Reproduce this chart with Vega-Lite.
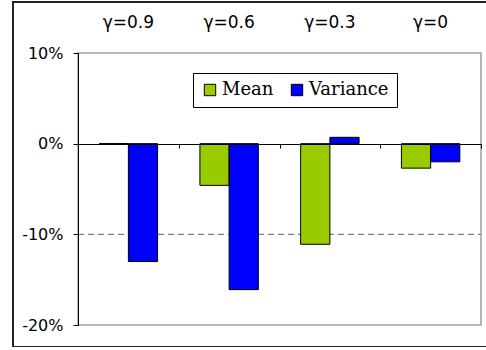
{
  "$schema": "https://vega.github.io/schema/vega-lite/v6.json",
  "width": 474,
  "height": 345,
  "autosize": {"type": "none"},
  "padding": {"left": 13, "top": 2, "right": 0, "bottom": 0},
  "background": "white",
  "config": {
    "view": {"stroke": "#222222", "strokeWidth": 2},
    "font": "DejaVu Sans"
  },
  "data": {
    "values": [
      {"gamma": "γ=0.9", "series": "Mean", "value": 0},
      {"gamma": "γ=0.9", "series": "Variance", "value": -0.13},
      {"gamma": "γ=0.6", "series": "Mean", "value": -0.046},
      {"gamma": "γ=0.6", "series": "Variance", "value": -0.161},
      {"gamma": "γ=0.3", "series": "Mean", "value": -0.111},
      {"gamma": "γ=0.3", "series": "Variance", "value": 0.007},
      {"gamma": "γ=0", "series": "Mean", "value": -0.027},
      {"gamma": "γ=0", "series": "Variance", "value": -0.02}
    ]
  },
  "layer": [
    {
      "data": {"values": [{}]},
      "layer": [
        {
          "mark": {"type": "rect", "fill": "transparent", "stroke": "#a0a0a0", "strokeWidth": 1.5},
          "encoding": {
            "x": {
              "datum": 0,
              "type": "quantitative",
              "scale": {"domain": [0, 4], "range": [65, 468], "nice": false, "zero": false},
              "axis": {
                "orient": "bottom",
                "offset": -203,
                "values": [0, 1, 2, 3, 4],
                "labels": false,
                "grid": false,
                "domainColor": "black",
                "domainWidth": 1,
                "tickColor": "black",
                "tickSize": 4,
                "title": null,
                "zindex": 1
              }
            },
            "x2": {"datum": 4},
            "y": {
              "datum": 0.1,
              "type": "quantitative",
              "scale": {"domain": [-0.2, 0.1], "range": [323, 51], "nice": false, "zero": false},
              "axis": {
                "orient": "left",
                "offset": -65,
                "values": [-0.2, -0.1, 0, 0.1],
                "format": ".0%",
                "labelExpr": "replace(datum.label, '\u2212', '-')",
                "grid": false,
                "domainColor": "black",
                "tickColor": "black",
                "tickSize": 5,
                "labelPadding": 10,
                "labelFont": "DejaVu Sans",
                "labelFontSize": 16,
                "labelColor": "black",
                "title": null,
                "zindex": 1
              }
            },
            "y2": {"datum": -0.2}
          }
        },
        {
          "mark": {"type": "rule", "stroke": "#808080", "strokeWidth": 1.3, "strokeDash": [6, 4]},
          "encoding": {
            "x": {"datum": 0, "type": "quantitative"},
            "x2": {"datum": 4},
            "y": {"datum": -0.1, "type": "quantitative"}
          }
        }
      ]
    },
    {
      "mark": {"type": "bar", "stroke": "black", "strokeWidth": 1},
      "encoding": {
        "x": {
          "field": "gamma",
          "type": "nominal",
          "sort": ["γ=0.9", "γ=0.6", "γ=0.3", "γ=0"],
          "scale": {"range": [65, 468], "paddingInner": 0.42, "paddingOuter": 0.21},
          "axis": {
            "orient": "top",
            "offset": -20,
            "domain": false,
            "ticks": false,
            "labelPadding": 0,
            "labelBaseline": "middle",
            "labelAngle": 0,
            "labelFont": "DejaVu Sans",
            "labelFontSize": 17,
            "labelColor": "black",
            "title": null
          }
        },
        "xOffset": {
          "field": "series",
          "type": "nominal",
          "sort": ["Mean", "Variance"],
          "scale": {"paddingInner": 0, "paddingOuter": 0}
        },
        "y": {
          "field": "value",
          "type": "quantitative",
          "scale": {"domain": [-0.2, 0.1], "range": [323, 51], "nice": false, "zero": false},
          "axis": {
            "orient": "left",
            "offset": -65,
            "values": [-0.2, -0.1, 0, 0.1],
            "format": ".0%",
            "labelExpr": "replace(datum.label, '\u2212', '-')",
            "grid": false,
            "domainColor": "black",
            "tickColor": "black",
            "tickSize": 5,
            "labelPadding": 10,
            "labelFont": "DejaVu Sans",
            "labelFontSize": 16,
            "labelColor": "black",
            "title": null,
            "zindex": 1
          }
        },
        "y2": {"datum": 0},
        "color": {
          "field": "series",
          "type": "nominal",
          "scale": {"domain": ["Mean", "Variance"], "range": ["#99cc00", "#0000ff"]},
          "legend": {
            "orient": "none",
            "legendX": 180,
            "legendY": 71,
            "direction": "horizontal",
            "title": null,
            "strokeColor": "black",
            "fillColor": "white",
            "padding": 8,
            "symbolType": "square",
            "symbolSize": 130,
            "symbolStrokeColor": "black",
            "symbolStrokeWidth": 1,
            "symbolOpacity": 1,
            "labelFont": "DejaVu Serif",
            "labelFontSize": 18,
            "labelColor": "black",
            "labelOffset": 3,
            "columnPadding": 14
          }
        }
      }
    }
  ],
  "resolve": {"scale": {"x": "independent"}}
}
